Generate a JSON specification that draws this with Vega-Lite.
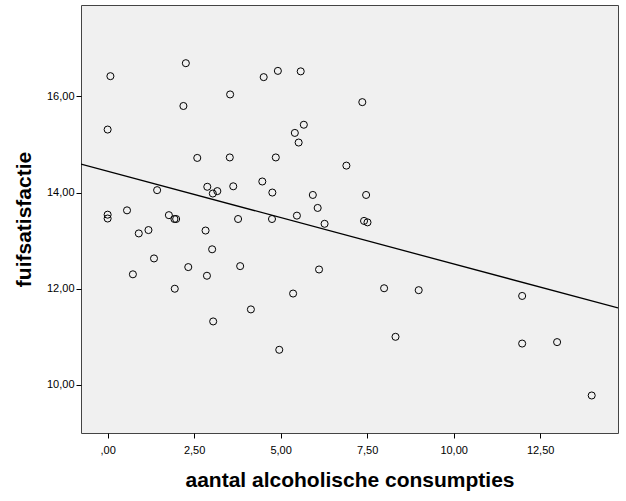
{
  "$schema": "https://vega.github.io/schema/vega-lite/v6.json",
  "width": 537,
  "height": 428,
  "autosize": {"type": "none"},
  "padding": {"left": 81, "top": 5, "right": 8, "bottom": 68},
  "background": "white",
  "config": {
    "view": {"fill": "#F0F0F0", "stroke": "#444444", "strokeWidth": 1},
    "font": "Liberation Sans",
    "axis": {
      "grid": false,
      "domain": false,
      "tickColor": "#000000",
      "tickSize": 5,
      "tickWidth": 1,
      "labelFont": "Liberation Sans",
      "labelFontSize": 11,
      "labelColor": "#000000",
      "titleFont": "Liberation Sans",
      "titleFontSize": 21,
      "titleFontWeight": "bold",
      "titleColor": "#000000"
    }
  },
  "data": {
    "values": [
      {"x": 0.08, "y": 16.42}, {"x": 2.26, "y": 16.69}, {"x": 4.51, "y": 16.40}, {"x": 3.54, "y": 16.04},
      {"x": 2.19, "y": 15.80}, {"x": 0.00, "y": 15.31}, {"x": 2.59, "y": 14.72}, {"x": 3.53, "y": 14.73},
      {"x": 4.47, "y": 14.23}, {"x": 1.43, "y": 14.05}, {"x": 2.88, "y": 14.12}, {"x": 3.63, "y": 14.13},
      {"x": 3.04, "y": 13.98}, {"x": 3.17, "y": 14.03}, {"x": 4.76, "y": 14.00}, {"x": 4.92, "y": 16.53},
      {"x": 5.58, "y": 16.52}, {"x": 7.36, "y": 15.88}, {"x": 5.67, "y": 15.41}, {"x": 5.41, "y": 15.24},
      {"x": 5.52, "y": 15.04}, {"x": 4.86, "y": 14.73}, {"x": 6.90, "y": 14.56}, {"x": 5.93, "y": 13.95},
      {"x": 7.47, "y": 13.95}, {"x": 6.07, "y": 13.68}, {"x": 5.47, "y": 13.52}, {"x": 4.75, "y": 13.45},
      {"x": 7.41, "y": 13.41}, {"x": 7.51, "y": 13.38}, {"x": 6.27, "y": 13.35}, {"x": 0.00, "y": 13.54},
      {"x": 0.00, "y": 13.46}, {"x": 0.56, "y": 13.63}, {"x": 1.77, "y": 13.53}, {"x": 1.93, "y": 13.45},
      {"x": 1.98, "y": 13.45}, {"x": 3.77, "y": 13.45}, {"x": 0.90, "y": 13.15}, {"x": 1.18, "y": 13.22},
      {"x": 2.83, "y": 13.21}, {"x": 3.02, "y": 12.82}, {"x": 1.34, "y": 12.63}, {"x": 2.33, "y": 12.45},
      {"x": 3.83, "y": 12.47}, {"x": 0.73, "y": 12.30}, {"x": 2.87, "y": 12.27}, {"x": 1.94, "y": 12.00},
      {"x": 4.14, "y": 11.57}, {"x": 3.05, "y": 11.32}, {"x": 6.11, "y": 12.40}, {"x": 5.36, "y": 11.90},
      {"x": 7.99, "y": 12.01}, {"x": 8.99, "y": 11.97}, {"x": 8.32, "y": 11.00}, {"x": 4.96, "y": 10.73},
      {"x": 11.98, "y": 11.85}, {"x": 11.98, "y": 10.86}, {"x": 12.99, "y": 10.89}, {"x": 13.99, "y": 9.78}
    ]
  },
  "encoding": {
    "x": {
      "field": "x",
      "type": "quantitative",
      "scale": {"domain": [-0.77, 14.75], "nice": false, "zero": false},
      "axis": {
        "values": [0, 2.5, 5, 7.5, 10, 12.5],
        "labelExpr": "datum.value == 0 ? ',00' : replace(format(datum.value, '.2f'), '.', ',')",
        "labelPadding": 6,
        "title": "aantal alcoholische consumpties",
        "titlePadding": 14
      }
    },
    "y": {
      "field": "y",
      "type": "quantitative",
      "scale": {"domain": [9.0, 17.9], "nice": false, "zero": false},
      "axis": {
        "values": [10, 12, 14, 16],
        "labelExpr": "replace(format(datum.value, '.2f'), '.', ',')",
        "labelPadding": 2,
        "title": "fuifsatisfactie",
        "titlePadding": 12
      }
    }
  },
  "layer": [
    {
      "mark": {"type": "point", "shape": "circle", "filled": false, "size": 50, "stroke": "#000000", "strokeWidth": 1, "opacity": 1}
    },
    {
      "transform": [{"regression": "y", "on": "x", "extent": [-0.77, 14.75]}],
      "mark": {"type": "line", "color": "#000000", "strokeWidth": 1.3, "clip": true}
    }
  ]
}
